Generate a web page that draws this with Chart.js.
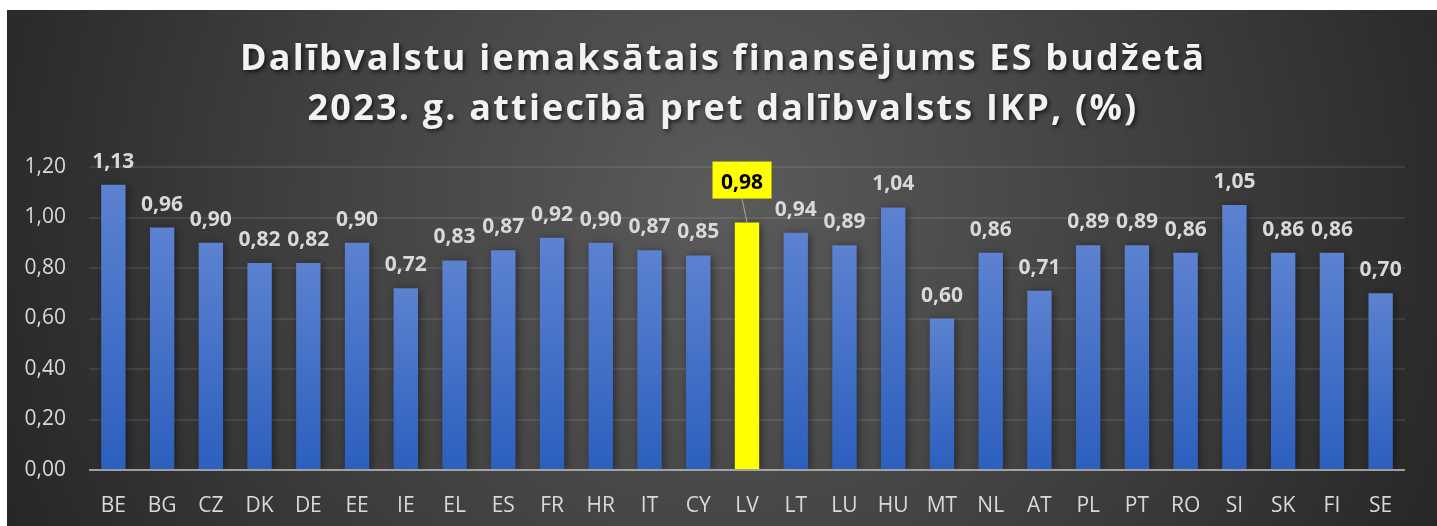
<!DOCTYPE html>
<html>
<head>
<meta charset="utf-8">
<script src="https://cdn.jsdelivr.net/npm/chart.js@4.4.1/dist/chart.umd.min.js"></script>
<style>
    html, body { margin: 0; padding: 0; background: #ffffff; }
    #wrap { position: absolute; left: 7px; top: 10px; width: 1430px; height: 516px; }
</style>
</head>
<body>
<div id="wrap"><canvas id="chart"></canvas></div>
<script>
// Chart data
const titleLines = [
    "Dalībvalstu iemaksātais finansējums ES budžetā",
    "2023. g. attiecībā pret dalībvalsts IKP, (%)"
];
const countries = ["BE", "BG", "CZ", "DK", "DE", "EE", "IE", "EL", "ES", "FR", "HR", "IT", "CY", "LV",
    "LT", "LU", "HU", "MT", "NL", "AT", "PL", "PT", "RO", "SI", "SK", "FI", "SE"];
const shares = [1.13, 0.96, 0.90, 0.82, 0.82, 0.90, 0.72, 0.83, 0.87, 0.92, 0.90, 0.87, 0.85, 0.98,
    0.94, 0.89, 1.04, 0.60, 0.86, 0.71, 0.89, 0.89, 0.86, 1.05, 0.86, 0.86, 0.70];
const highlightCountry = "LV";
const yMin = 0;
const yMax = 1.2;
const yStep = 0.2;

const fmt = (v) => v.toFixed(2).replace(".", ",");
const FONT = '"Open Sans", "DejaVu Sans", sans-serif';

// background: dark radial gradient
const backgroundPlugin = {
    id: "bgGradient",
    beforeDraw: (chart) => {
        const { ctx, width, height } = chart;
        const g = ctx.createRadialGradient(720, 190, 0, 720, 190, 820);
        g.addColorStop(0, "#5b5b5b");
        g.addColorStop(0.55, "#3e3e3e");
        g.addColorStop(1, "#242424");
        ctx.save();
        ctx.fillStyle = g;
        ctx.fillRect(0, 0, width, height);
        ctx.restore();
    },
};

// two-line title with letter spacing and shadow
const titlePlugin = {
    id: "twoLineTitle",
    afterDraw: (chart) => {
        const { ctx, width } = chart;
        ctx.save();
        ctx.font = "bold 36px " + FONT;
        ctx.letterSpacing = "2.2px";
        ctx.textAlign = "center";
        ctx.textBaseline = "alphabetic";
        ctx.fillStyle = "#f2f2f2";
        ctx.shadowColor = "rgba(0,0,0,0.65)";
        ctx.shadowBlur = 4;
        ctx.shadowOffsetX = 2;
        ctx.shadowOffsetY = 2;
        ctx.fillText(titleLines[0], width / 2 + 1, 60);
        ctx.fillText(titleLines[1], width / 2 + 1, 110);
        ctx.restore();
    },
};

// soft shadow behind the bars
const barShadowPlugin = {
    id: "barShadow",
    beforeDatasetsDraw: (chart) => {
        const ctx = chart.ctx;
        ctx.save();
        ctx.shadowColor = "rgba(0,0,0,0.45)";
        ctx.shadowBlur = 8;
        ctx.shadowOffsetX = 2;
        ctx.shadowOffsetY = 1;
    },
    afterDatasetsDraw: (chart) => {
        chart.ctx.restore();
    },
};

// value labels, baseline and the highlighted callout
const labelPlugin = {
    id: "valueLabels",
    afterDatasetsDraw: (chart) => {
        const { ctx, chartArea, scales } = chart;
        const meta = chart.getDatasetMeta(0);

        // axis line at zero
        const y0 = scales.y.getPixelForValue(0);
        ctx.save();
        ctx.strokeStyle = "rgba(190,190,190,0.75)";
        ctx.lineWidth = 2;
        ctx.beginPath();
        ctx.moveTo(chartArea.left, y0);
        ctx.lineTo(chartArea.right, y0);
        ctx.stroke();
        ctx.restore();

        ctx.save();
        ctx.textAlign = "center";
        ctx.textBaseline = "alphabetic";
        meta.data.forEach((bar, i) => {
            const txt = fmt(shares[i]);
            if (countries[i] === highlightCountry) {
                ctx.font = "bold 21px " + FONT;
                const bx = bar.x - 5;
                const boxW = 59, boxH = 37;
                const boxBottom = bar.y - 24;
                // leader line
                ctx.strokeStyle = "#a6a6a6";
                ctx.lineWidth = 1;
                ctx.beginPath();
                ctx.moveTo(bx, boxBottom);
                ctx.lineTo(bar.x, bar.y);
                ctx.stroke();
                ctx.fillStyle = "#ffff00";
                ctx.fillRect(bx - boxW / 2, boxBottom - boxH, boxW, boxH);
                ctx.fillStyle = "#000000";
                ctx.fillText(txt, bx, boxBottom - 10);
            } else {
                ctx.font = "bold 21px " + FONT;
                ctx.fillStyle = "#d9d9d9";
                ctx.fillText(txt, bar.x, bar.y - 17);
            }
        });
        ctx.restore();
    },
};

const barColor = (c) => {
    if (countries[c.dataIndex] === highlightCountry) return "#ffff00";
    const chart = c.chart;
    const yScale = chart.scales.y;
    if (!chart.chartArea || !yScale) return "#4472c4";
    const top = yScale.getPixelForValue(shares[c.dataIndex]);
    const bottom = yScale.getPixelForValue(0);
    if (!isFinite(top) || !isFinite(bottom) || top === bottom) return "#4472c4";
    const g = chart.ctx.createLinearGradient(0, top, 0, bottom);
    g.addColorStop(0, "#5c82d0");
    g.addColorStop(1, "#2c5fbe");
    return g;
};

const ctx = document.getElementById("chart").getContext("2d");
const chart = new Chart(ctx, {
    type: "bar",
    data: {
        labels: countries,
        datasets: [
            {
                label: "IKP %",
                data: shares,
                backgroundColor: barColor,
                borderWidth: 0,
                barPercentage: 1,
                categoryPercentage: 0.5,
            },
        ],
    },
    options: {
        responsive: true,
        maintainAspectRatio: false,
        animation: false,
        layout: {
            padding: { top: 157, right: 32, left: 0, bottom: 0 },
        },
        scales: {
            x: {
                grid: { display: false },
                border: { display: false },
                ticks: {
                    color: "#d9d9d9",
                    font: { family: FONT, size: 21 },
                    padding: 15,
                    maxRotation: 0,
                    autoSkip: false,
                },
                afterFit: (s) => { s.height = 56; },
            },
            y: {
                min: yMin,
                max: yMax,
                grid: {
                    color: "rgba(255,255,255,0.09)",
                    lineWidth: 2,
                    drawTicks: false,
                },
                border: { display: false },
                ticks: {
                    stepSize: yStep,
                    color: "#d9d9d9",
                    font: { family: FONT, size: 21 },
                    padding: 23,
                    callback: (v) => fmt(v),
                },
                afterFit: (s) => { s.width = 82; },
            },
        },
        plugins: {
            legend: { display: false },
            tooltip: { enabled: false },
        },
    },
    plugins: [backgroundPlugin, barShadowPlugin, labelPlugin, titlePlugin],
});
</script>
</body>
</html>
